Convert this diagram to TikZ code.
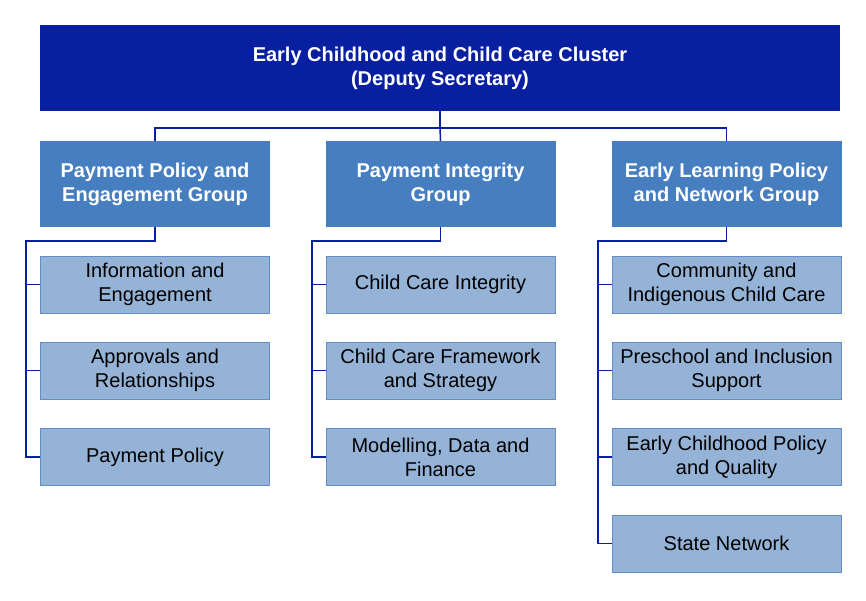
\documentclass[tikz,border=0pt]{standalone}
\usepackage{fontspec}
\setmainfont{Liberation Sans}
\usetikzlibrary{positioning}
\definecolor{navy}{RGB}{8,32,160}
\definecolor{grpblue}{RGB}{70,126,192}
\definecolor{subblue}{RGB}{149,179,215}
\definecolor{subedge}{RGB}{100,140,200}
\tikzset{
  head/.style={fill=navy,text=white,font=\fontsize{20}{24}\selectfont\bfseries,minimum width=800pt,minimum height=86pt,align=center,inner sep=0pt},
  grp/.style={fill=grpblue,text=white,font=\fontsize{20}{24}\selectfont\bfseries,minimum width=230pt,minimum height=86pt,align=center,inner sep=0pt},
  unit/.style={fill=subblue,draw=subedge,line width=0.8pt,font=\fontsize{20}{24}\selectfont,minimum width=229pt,minimum height=57pt,align=center,inner sep=0pt},
  link/.style={draw=navy,line width=1.5pt}
}
\begin{document}
\begin{tikzpicture}[x=1pt,y=-1pt]
  \useasboundingbox (0,0) rectangle (866,600);
  \node[head] (top) at (440,68) {Early Childhood and Child Care Cluster\\(Deputy Secretary)};
  \node[grp] (g1) at (155,184) {Payment Policy and\\Engagement Group};
  \node[grp] (g2) at (440.5,184) {Payment Integrity\\Group};
  \node[grp] (g3) at (726.5,184) {Early Learning Policy\\and Network Group};
  \node[unit] (a1) at (155,284.5) {Information and\\Engagement};
  \node[unit] (a2) at (155,370.5) {Approvals and\\Relationships};
  \node[unit] (a3) at (155,457) {Payment Policy};
  \node[unit] (b1) at (440.5,284.5) {Child Care Integrity};
  \node[unit] (b2) at (440.5,370.5) {Child Care Framework\\and Strategy};
  \node[unit] (b3) at (440.5,457) {Modelling, Data and\\Finance};
  \node[unit] (c1) at (726.5,284.5) {Community and\\Indigenous Child Care};
  \node[unit] (c2) at (726.5,370.5) {Preschool and Inclusion\\Support};
  \node[unit] (c3) at (726.5,457) {Early Childhood Policy\\and Quality};
  \node[unit] (c4) at (726.5,543.5) {State Network};
  % top level links
  \coordinate (hub) at (440,128);
  \path[link] (top.south) -- (hub);
  \path[link] (g1.north) |- (hub) -| (g3.north);
  \path[link] (hub) -- (g2.north);
  % group links
  \coordinate (s1) at (26,241);
  \coordinate (s2) at (312,241);
  \coordinate (s3) at (598,241);
  \path[link] (g1.south) |- (s1) |- (a3.west);
  \path[link] (s1 |- a1.west) -- (a1.west) (s1 |- a2.west) -- (a2.west);
  \path[link] (g2.south) |- (s2) |- (b3.west);
  \path[link] (s2 |- b1.west) -- (b1.west) (s2 |- b2.west) -- (b2.west);
  \path[link] (g3.south) |- (s3) |- (c4.west);
  \path[link] (s3 |- c1.west) -- (c1.west) (s3 |- c2.west) -- (c2.west) (s3 |- c3.west) -- (c3.west);
\end{tikzpicture}
\end{document}
